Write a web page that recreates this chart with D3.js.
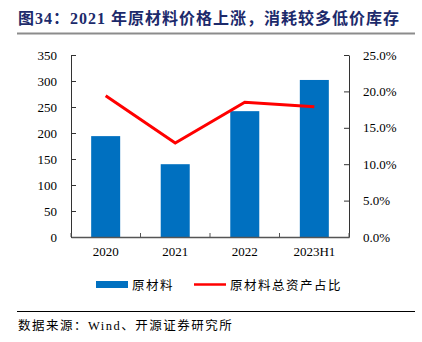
<!DOCTYPE html>
<html><head><meta charset="utf-8">
<script src="https://cdn.jsdelivr.net/npm/d3@7/dist/d3.min.js"></script>
<style>body{margin:0;background:#fff}svg{display:block}</style>
</head><body>
<svg id="c" width="422" height="342"></svg>
<script>
const categories = ["2020", "2021", "2022", "2023H1"];
const rawMaterial = [194, 140, 242, 302];
const rawShare = [19.4, 12.9, 18.5, 17.9];
const leftTicks = [0, 50, 100, 150, 200, 250, 300, 350];
const rightTicks = [0, 5, 10, 15, 20, 25];

const svg = d3.select("#c");
const serif = "'Liberation Serif','Times New Roman',serif";
const cjk = "'Noto Sans CJK SC',sans-serif";

svg.append("text").attr("x", 18).attr("y", 24)
  .attr("font-family", "'Liberation Serif','Noto Sans CJK SC',serif")
  .attr("font-weight", "bold").attr("font-size", 16).attr("fill", "#1c2a6b")
  .attr("letter-spacing", 1.0)
  .text("图34：2021 年原材料价格上涨，消耗较多低价库存");
svg.append("line").attr("x1", 17).attr("x2", 415).attr("y1", 33.5).attr("y2", 33.5)
  .attr("stroke", "#8c8c8c").attr("stroke-width", 2);

const L = 71, R = 349, T = 55, B = 237;
const x = d3.scaleBand().domain(categories).range([L, R]).paddingInner(0.583).paddingOuter(0.29);
const yL = d3.scaleLinear().domain([0, 350]).range([B, T]);
const yR = d3.scaleLinear().domain([0, 25]).range([B, T]);

// bars
svg.append("g").selectAll("rect").data(rawMaterial).join("rect")
  .attr("x", (d, i) => x(categories[i])).attr("width", x.bandwidth())
  .attr("y", d => yL(d)).attr("height", d => B - yL(d)).attr("fill", "#0070c0");

// left axis
const gl = svg.append("g").attr("transform", `translate(${L},0)`)
  .call(d3.axisLeft(yL).tickValues(leftTicks).tickSizeInner(-5).tickSizeOuter(0).tickPadding(14));
gl.select(".domain").attr("stroke", "#333");
gl.selectAll(".tick line").attr("stroke", "#333");
gl.selectAll("text").attr("font-family", serif).attr("font-size", 13).attr("fill", "#000");

// right axis
const gr = svg.append("g").attr("transform", `translate(${R},0)`)
  .call(d3.axisRight(yR).tickValues(rightTicks).tickFormat(d => d.toFixed(1) + "%").tickSizeInner(-5).tickSizeOuter(0).tickPadding(14));
gr.select(".domain").attr("stroke", "#333");
gr.selectAll(".tick line").attr("stroke", "#333");
gr.selectAll("text").attr("font-family", serif).attr("font-size", 13).attr("fill", "#000");

// bottom axis
const gb = svg.append("g").attr("transform", `translate(0,${B})`)
  .call(d3.axisBottom(x).tickSize(0).tickPadding(10));
gb.select(".domain").attr("stroke", "#555").attr("stroke-width", 1.5);
gb.selectAll("text").attr("font-family", serif).attr("font-size", 13).attr("fill", "#000");
const sepTicks = d3.range(0, categories.length + 1).map(i => L + i * (R - L) / categories.length);
svg.append("g").selectAll("line").data(sepTicks).join("line")
  .attr("x1", d => d).attr("x2", d => d).attr("y1", B).attr("y2", B - 4)
  .attr("stroke", "#555");

// line
const line = d3.line().x((d, i) => x(categories[i]) + x.bandwidth() / 2).y(d => yR(d));
svg.append("path").datum(rawShare).attr("d", line).attr("fill", "none")
  .attr("stroke", "#ff0000").attr("stroke-width", 3);

// legend
svg.append("rect").attr("x", 96).attr("y", 281).attr("width", 32).attr("height", 7).attr("fill", "#0070c0");
svg.append("text").attr("x", 132).attr("y", 289.5).attr("font-family", cjk).attr("font-size", 12.5).attr("letter-spacing", 1.5).attr("fill", "#000").text("原材料");
svg.append("line").attr("x1", 194).attr("x2", 226).attr("y1", 284.5).attr("y2", 284.5).attr("stroke", "#ff0000").attr("stroke-width", 2.5);
svg.append("text").attr("x", 230).attr("y", 289.5).attr("font-family", cjk).attr("font-size", 12.5).attr("letter-spacing", 1.5).attr("fill", "#000").text("原材料总资产占比");

// footer
svg.append("line").attr("x1", 17).attr("x2", 415).attr("y1", 311.5).attr("y2", 311.5).attr("stroke", "#000").attr("stroke-width", 1);
svg.append("text").attr("x", 18).attr("y", 330).attr("font-family", "'Liberation Serif','Noto Sans CJK SC',serif").attr("font-size", 12.5).attr("letter-spacing", 1.5).attr("fill", "#000").text("数据来源：Wind、开源证券研究所");
</script>
</body></html>
